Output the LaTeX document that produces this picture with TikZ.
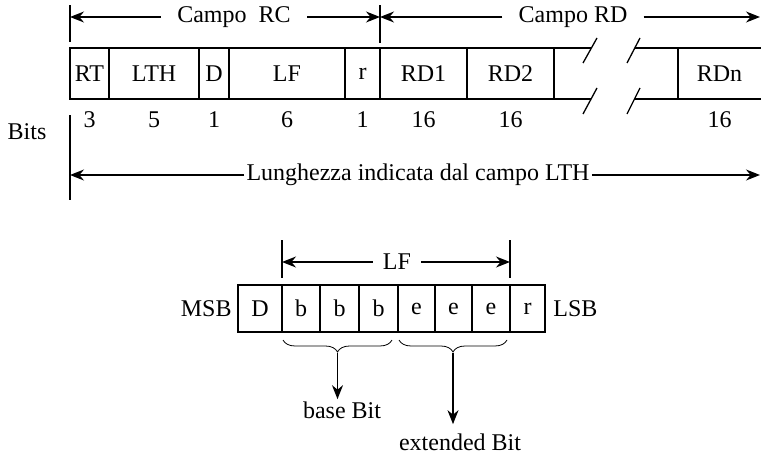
\documentclass[tikz,border=0pt]{standalone}
\usepackage{fontspec}
\setmainfont{Liberation Serif}
\usetikzlibrary{arrows.meta,positioning,decorations.pathreplacing}

\tikzset{
  cell/.style={draw,line width=0.65pt,inner sep=0pt,outer sep=0pt,anchor=west},
  lbl/.style={inner sep=0pt},
  dim/.style={line width=0.65pt,-{Stealth[length=7pt,width=5.5pt]}},
  tick/.style={line width=0.65pt},
  brc/.style={decorate,decoration={brace,mirror,amplitude=6pt},line width=0.4pt},
}

\begin{document}
\begin{tikzpicture}[x=0.5pt,y=-0.5pt,font=\fontsize{12}{14}\selectfont]
  \useasboundingbox (0,0) rectangle (761,455);

  % ---------------- record fields (top row) ----------------
  \foreach \a/\b/\n/\t in {70/109/rt/RT, 109/199/lth/LTH, 199/229/d/D, 229/345/lf/LF,
                           345/380/r/r, 380/467/rda/RD1, 467/554/rdb/RD2}
    \node[cell,minimum height=25.5pt,minimum width={(\b-\a)*0.5pt}] (\n) at (\a,73.5) {\t};

  % open part with the break marks
  \draw[tick] (rdb.north east) -- (591,48);
  \draw[tick] (rdb.south east) -- (591,99);
  \draw[tick] (635,48) -- (761,48);
  \draw[tick] (635,99) -- (761,99);
  \draw[tick] (583,63) -- (597,38);
  \draw[tick] (627,63) -- (640,38);
  \draw[tick] (583,114) -- (597,88);
  \draw[tick] (627,114) -- (640,88);
  \draw[tick] (678,48) -- (678,99);
  \node[lbl] (rdn) at (719.5,73.5) {RDn};

  % bit counts
  \coordinate (bitrow) at (0,120);
  \foreach \n/\v in {rt/3, lth/5, d/1, lf/6, r/1, rda/16, rdb/16, rdn/16}
    \node[lbl] (\n-bits) at (\n |- bitrow) {\v};
  \node[lbl] (bits) at (27,132) {Bits};

  % ---------------- dimension lines ----------------
  \draw[tick] (70,5) -- (70,42);
  \draw[tick] (380,5) -- (380,43);
  \draw[tick] (70,115) -- (70,200);

  \node[lbl,inner sep=8pt] (rc) at (234,17) {Campo~~RC};
  \draw[dim] (rc.west) -- (rt.west |- rc);
  \draw[dim] (rc.east) -- (rda.west |- rc);

  \node[lbl,inner sep=8pt] (rd) at (573,17) {Campo RD};
  \draw[dim] (rd.west) -- (rda.west |- rd);
  \coordinate (rdend) at (760,17);
  \draw[dim] (rd.east) -- (rdend);

  \node[lbl,inner sep=1pt] (lung) at (418,175) {Lunghezza indicata dal campo LTH};
  \draw[dim] (lung.west) -- (rt.west |- lung);
  \coordinate (lungend) at (760,175);
  \draw[dim] (lung.east) -- (lungend);

  % ---------------- LF byte (bottom) ----------------
  \foreach \a/\b/\n/\t in {238/282/md/D, 282/320/b1/b, 320/359/b2/b, 359/398/b3/b,
                           398/435/e1/e, 435/472/e2/e, 472/510/e3/e, 510/545/mr/r}
    \node[cell,minimum height=23.5pt,minimum width={(\b-\a)*0.5pt}] (\n) at (\a,308.5) {\t};

  \node[lbl] (msb) [left=3pt of md] {MSB};
  \node[lbl] (lsb) [right=4pt of mr] {LSB};

  \draw[tick] (282,240) -- (282,278);
  \draw[tick] (510,240) -- (510,278);
  \node[lbl,inner sep=5pt] (lfb) at (397,262) {LF};
  \draw[dim] (lfb.west) -- (b1.west |- lfb);
  \draw[dim] (lfb.east) -- (mr.west |- lfb);

  % braces and their labels
  \draw[brc] (283,340) -- (392,340);
  \draw[brc] (399,340) -- (507,340);
  \coordinate (bt1) at (337.5,353);
  \coordinate (bt2) at (453,353);

  \node[lbl,inner sep=1pt] (base) at (342,410) {base Bit};
  \node[lbl,inner sep=4.5pt] (ext) at (460,442) {extended Bit};
  \draw[dim] (bt1) -- (bt1 |- base.north);
  \draw[dim] (bt2) -- (bt2 |- ext.north);

\end{tikzpicture}
\end{document}
